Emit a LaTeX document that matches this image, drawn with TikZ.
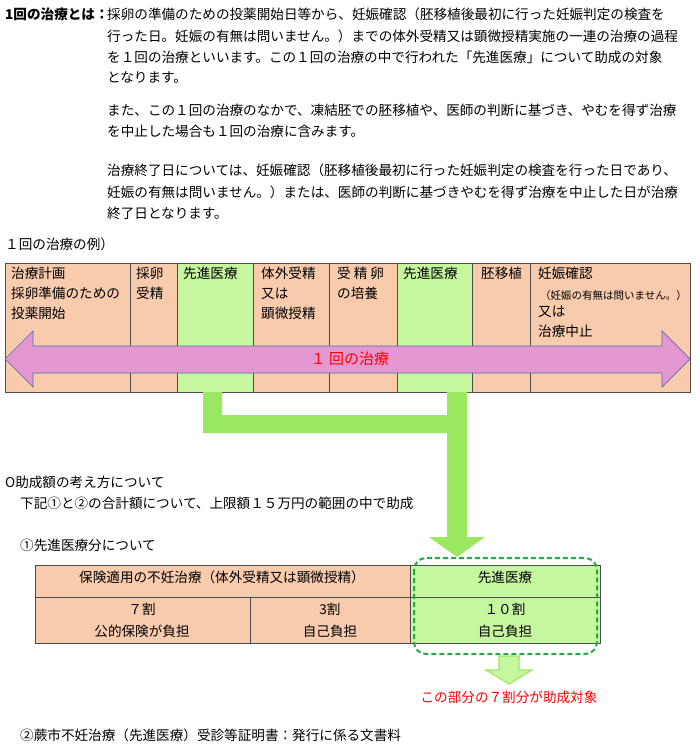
\documentclass[tikz,border=0pt]{standalone}
\usepackage{fontspec}
\setmainfont{Noto Sans CJK JP}
\begin{document}
\begin{tikzpicture}[x=1pt,y=-1pt,
 t/.style={anchor=west,inner sep=0pt,font=\fontsize{13.6}{20}\selectfont},
 c/.style={inner sep=0pt,font=\fontsize{13.6}{22}\selectfont},
 sal/.style={fill=salmonc,draw=black!70,line width=0.5pt},
 grn/.style={fill=greenc,draw=black!70,line width=0.5pt}]
\definecolor{salmonc}{HTML}{F8CBAD}
\definecolor{greenc}{HTML}{C6F7A0}
\definecolor{conn}{HTML}{99E860}
\definecolor{pinkc}{HTML}{E597D2}
\definecolor{arrb}{HTML}{4F6FAF}
\definecolor{dashc}{HTML}{22AA44}
\useasboundingbox (0,0) rectangle (700,749);
% top text
\node[t,font=\bfseries\fontsize{13.6}{20}\selectfont] (h0) at (5,14) {1回の治療とは：};
\node[t] (h1) at (107,14) {採卵の準備のための投薬開始日等から、妊娠確認（胚移植後最初に行った妊娠判定の検査を};
\node[t] (h2) at (107,36) {行った日。妊娠の有無は問いません。）までの体外受精又は顕微授精実施の一連の治療の過程};
\node[t] (h3) at (107,57) {を１回の治療といいます。この１回の治療の中で行われた「先進医療」について助成の対象};
\node[t] (h4) at (107,77) {となります。};
\node[t] (h5) at (107,110) {また、この１回の治療のなかで、凍結胚での胚移植や、医師の判断に基づき、やむを得ず治療};
\node[t] (h6) at (107,131) {を中止した場合も１回の治療に含みます。};
\node[t] (h7) at (107,170) {治療終了日については、妊娠確認（胚移植後最初に行った妊娠判定の検査を行った日であり、};
\node[t] (h8) at (107,192) {妊娠の有無は問いません。）または、医師の判断に基づきやむを得ず治療を中止した日が治療};
\node[t] (h9) at (107,213) {終了日となります。};
\node[t] (ex) at (5,244) {１回の治療の例）};
% table
\foreach \a/\b/\s in {5/130/sal,130/177/sal,177/253/grn,253/329/sal,329/397/sal,397/472/grn,472/530/sal,530/690/sal}
  \path[\s] (\a,263) rectangle (\b,392);
\node[t,align=left,anchor=north west] (c1) at (11,267) {治療計画\\採卵準備のための\\投薬開始};
\node[t,align=left,anchor=north west] (c2) at (136,267) {採卵\\受精};
\node[t,anchor=north west] (c3) at (183,267) {先進医療};
\node[t,align=left,anchor=north west] (c4) at (261,267) {体外受精\\又は\\顕微授精};
\node[t,align=left,anchor=north west] (c5) at (337,267) {受 精 卵\\の培養};
\node[t,anchor=north west] (c6) at (403,267) {先進医療};
\node[t,anchor=north west] (c7) at (481,267) {胚移植};
\node[t,anchor=north west] (c8) at (538,267) {妊娠確認};
\node[t,anchor=north west,font=\fontsize{10.5}{12}\selectfont] (c9) at (540,290) {（妊娠の有無は問いません。）};
\node[t,align=left,anchor=north west] (c10) at (538,306) {又は\\治療中止};
% double arrow
\path[fill=pinkc,draw=arrb,line width=0.7pt] (5,359) -- (33,331) -- (33,346) -- (662,346) -- (662,331) -- (690,359) -- (662,387) -- (662,373) -- (33,373) -- (33,387) -- cycle;
\node[c,text=red,font=\fontsize{15}{16}\selectfont] (one) at (350,359) {１ 回の治療};
% green connector
\fill[conn] (203,392) -- (222,392) -- (222,415) -- (447,415) -- (447,392) -- (467,392) -- (467,537) -- (485,537) -- (457,557) -- (429,537) -- (447,537) -- (447,433) -- (203,433) -- cycle;
% lower text
\node[t] (s0) at (5,482) {O助成額の考え方について};
\node[t] (s1) at (20,503) {下記①と②の合計額について、上限額１５万円の範囲の中で助成};
\node[t] (s2) at (20,545) {①先進医療分について};
% lower table
\path[sal] (35,565) rectangle (410,597);
\path[sal] (35,597) rectangle (250,643);
\path[sal] (250,597) rectangle (410,643);
\path[grn] (410,565) rectangle (600,597);
\path[grn] (410,597) rectangle (600,643);
\node[c] (l1) at (222,577) {保険適用の不妊治療（体外受精又は顕微授精）};
\node[c] (l2) at (505,577) {先進医療};
\node[c,align=center] (l3) at (142,620) {７割\\公的保険が負担};
\node[c,align=center] (l4) at (330,620) {3割\\自己負担};
\node[c,align=center] (l5) at (505,620) {１０割\\自己負担};
\draw[dashc,line width=2pt,rounded corners=12pt,dash pattern=on 5pt off 3pt] (414,558) rectangle (597,654);
% small arrow
\path[fill=greenc,draw=conn,line width=1.2pt] (499,656) -- (519,656) -- (519,670) -- (532,670) -- (509,684) -- (486,670) -- (499,670) -- cycle;
\node[c,text=red] (red) at (509,697) {この部分の７割分が助成対象};
\node[t] (s3) at (20,735) {②蕨市不妊治療（先進医療）受診等証明書：発行に係る文書料};
\end{tikzpicture}
\end{document}
